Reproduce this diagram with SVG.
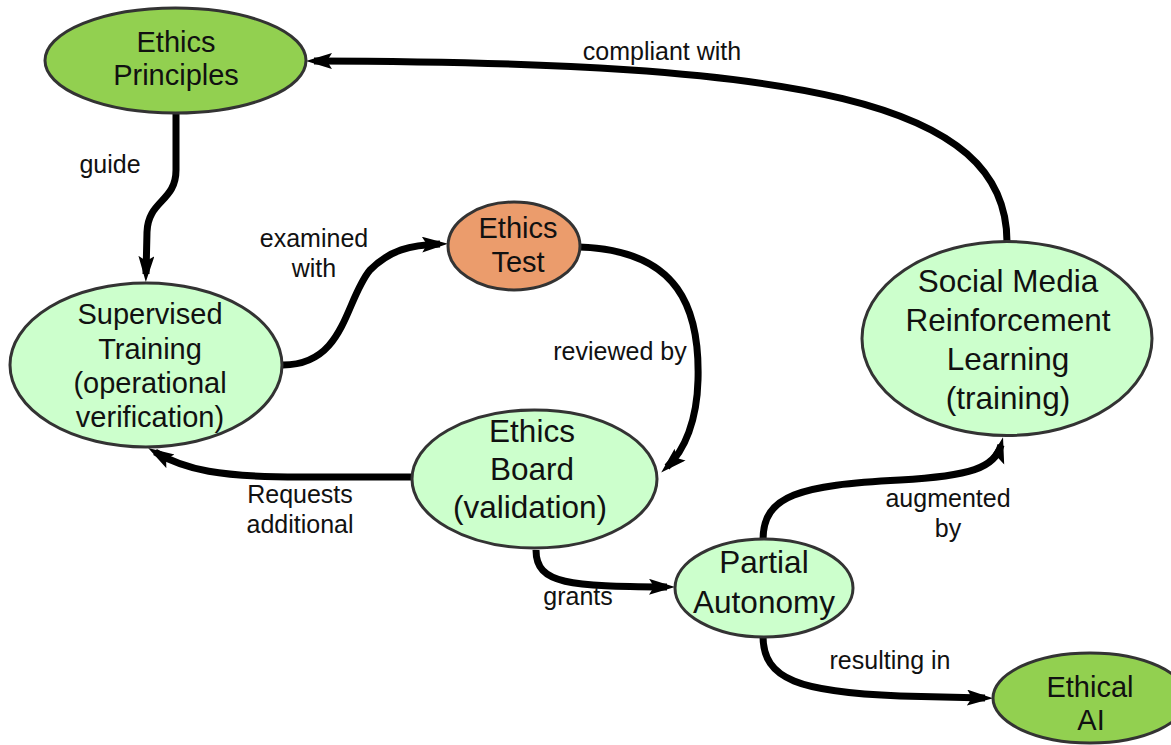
<svg xmlns="http://www.w3.org/2000/svg" width="1171" height="745" viewBox="0 0 1171 745">
<style>
.node ellipse{stroke:#333;stroke-width:3}
.dark{fill:#92d050}
.light{fill:#ccffcc}
.orange{fill:#eb9c6c}
.nt{font-family:"Liberation Sans",Arial,sans-serif;fill:#111;text-anchor:middle}
.s29{font-size:29px}
.s31{font-size:31.5px}
.lbl{font-family:"Liberation Sans",Arial,sans-serif;font-size:25px;fill:#111;text-anchor:middle}
.edge{fill:none;stroke:#000;stroke-width:7;marker-end:url(#arr)}
</style>
<defs>
<marker id="arr" markerUnits="userSpaceOnUse" markerWidth="28" markerHeight="18" refX="18" refY="8" orient="auto">
<path d="M0,0 L26,8 L0,16 L5,8 z" fill="#000"/>
</marker>
</defs>
<rect width="1171" height="745" fill="#fff"/>
<g id="connectors">
<path class="edge" d="M1007,242 C1007,100 800,62 314,61"/>
<path class="edge" d="M176,114 L176,170 C176,202 148,200 147,232 L146,274"/>
<path class="edge" d="M283,365 C345,365 345,300 370,270 C390,250 410,245 440,244"/>
<path class="edge" d="M579,247 C680,250 700,310 698,380 C697,420 685,450 667,467"/>
<path class="edge" d="M412,477 L300,477 C220,477 185,470 155,452"/>
<path class="edge" d="M536,550 C536,585 570,586 667,587"/>
<path class="edge" d="M763,540 C763,495 800,485 900,480 C970,476 995,468 1001,445"/>
<path class="edge" d="M763,636 C763,680 800,692 900,696 L985,698"/>
</g>
<g id="labels">
<text class="lbl" x="662" y="60">compliant with</text>
<text class="lbl" x="110" y="173">guide</text>
<text class="lbl" x="314" y="247">examined</text>
<text class="lbl" x="314" y="277">with</text>
<text class="lbl" x="620" y="360">reviewed by</text>
<text class="lbl" x="300" y="503">Requests</text>
<text class="lbl" x="300" y="533">additional</text>
<text class="lbl" x="578" y="605">grants</text>
<text class="lbl" x="948" y="507">augmented</text>
<text class="lbl" x="948" y="537">by</text>
<text class="lbl" x="890" y="669">resulting in</text>
</g>
<g id="ethics-principles" class="node">
<ellipse class="dark" cx="175.5" cy="60.5" rx="130.5" ry="52.5"/>
<text class="nt s29" x="176" y="52">Ethics</text>
<text class="nt s29" x="176" y="85">Principles</text>
</g>
<g id="supervised-training" class="node">
<ellipse class="light" cx="146" cy="365" rx="136" ry="82"/>
<text class="nt s29" x="150" y="324">Supervised</text>
<text class="nt s29" x="150" y="359">Training</text>
<text class="nt s29" x="150" y="393">(operational</text>
<text class="nt s29" x="150" y="427">verification)</text>
</g>
<g id="ethics-test" class="node">
<ellipse class="orange" cx="514" cy="246" rx="66" ry="44"/>
<text class="nt s29" x="518" y="238">Ethics</text>
<text class="nt s29" x="518" y="272">Test</text>
</g>
<g id="ethics-board" class="node">
<ellipse class="light" cx="534.5" cy="479" rx="122.5" ry="69"/>
<text class="nt s31" x="532" y="442">Ethics</text>
<text class="nt s31" x="532" y="480">Board</text>
<text class="nt s31" x="530" y="518">(validation)</text>
</g>
<g id="social-media-rl" class="node">
<ellipse class="light" cx="1007" cy="338.5" rx="145" ry="97"/>
<text class="nt s31" x="1008" y="292">Social Media</text>
<text class="nt s31" x="1008" y="331">Reinforcement</text>
<text class="nt s31" x="1008" y="370">Learning</text>
<text class="nt s31" x="1008" y="409">(training)</text>
</g>
<g id="partial-autonomy" class="node">
<ellipse class="light" cx="764" cy="588" rx="89" ry="49"/>
<text class="nt s31" x="764" y="573">Partial</text>
<text class="nt s31" x="764" y="613">Autonomy</text>
</g>
<g id="ethical-ai" class="node">
<ellipse class="dark" cx="1090" cy="698" rx="97" ry="45"/>
<text class="nt s29" x="1090" y="697">Ethical</text>
<text class="nt s29" x="1091" y="730">AI</text>
</g>
</svg>
